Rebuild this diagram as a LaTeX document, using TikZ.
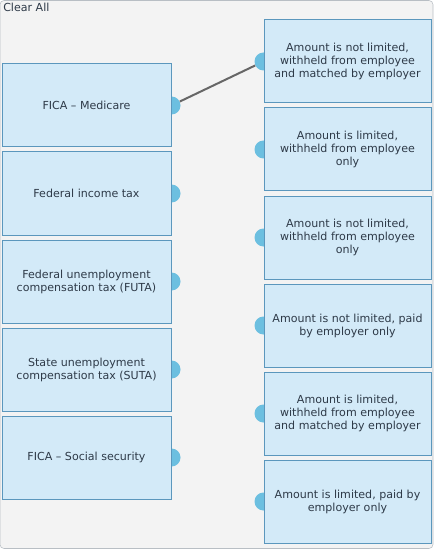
\documentclass[tikz,border=0pt]{standalone}
\usepackage{fontspec}
\setmainfont{DejaVu Sans}
\usetikzlibrary{backgrounds}
\definecolor{panelgray}{HTML}{F3F3F3}
\definecolor{panelline}{HTML}{B8BEC4}
\definecolor{boxfill}{HTML}{D3EAF8}
\definecolor{boxline}{HTML}{5B97BD}
\definecolor{dotblue}{HTML}{6CBFE0}
\definecolor{textgray}{HTML}{2E3A48}
\tikzset{
  taxbox/.style={draw=boxline,fill=boxfill,line width=0.75pt,minimum width=126.75pt,minimum height=62.25pt,inner sep=0pt,align=center,text=textgray,font=\fontsize{8.3}{9.75}\selectfont},
  rulebox/.style={taxbox,minimum width=125.25pt},
  handle/.style={circle,fill=dotblue,minimum size=13.5pt,inner sep=0pt},
  link/.style={draw=black!60,line width=1.5pt}
}
\begin{document}
\begin{tikzpicture}[x=0.75pt,y=-0.75pt]
\useasboundingbox (0,0) rectangle (437,552);
\node[taxbox] (medicare) at (86.5,105.5) {FICA -- Medicare};
\node[taxbox] (income) at (86.5,193.5) {Federal income tax};
\node[taxbox] (futa) at (86.5,281.5) {Federal unemployment\\compensation tax (FUTA)};
\node[taxbox] (suta) at (86.5,369.5) {State unemployment\\compensation tax (SUTA)};
\node[taxbox] (social) at (86.5,457.5) {FICA -- Social security};
\node[rulebox] (ruleA) at (347.5,61.5) {Amount is not limited,\\withheld from employee\\and matched by employer};
\node[rulebox] (ruleB) at (347.5,149.5) {Amount is limited,\\withheld from employee\\only};
\node[rulebox] (ruleC) at (347.5,237.5) {Amount is not limited,\\withheld from employee\\only};
\node[rulebox] (ruleD) at (347.5,325.5) {Amount is not limited, paid\\by employer only};
\node[rulebox] (ruleE) at (347.5,413.5) {Amount is limited,\\withheld from employee\\and matched by employer};
\node[rulebox] (ruleF) at (347.5,501.5) {Amount is limited, paid by\\employer only};
\node[anchor=north west,inner sep=0pt,text=textgray,font=\fontsize{8.3}{9.75}\selectfont] (clear) at (3,3) {Clear All};
\begin{scope}[on background layer]
\draw[panelline,fill=panelgray,rounded corners=3pt] (0,0.5) rectangle (433,548.5);
\node[handle] (hmedicare) at (medicare.east) {};
\node[handle] (hincome) at (income.east) {};
\node[handle] (hfuta) at (futa.east) {};
\node[handle] (hsuta) at (suta.east) {};
\node[handle] (hsocial) at (social.east) {};
\node[handle] (hruleA) at (ruleA.west) {};
\node[handle] (hruleB) at (ruleB.west) {};
\node[handle] (hruleC) at (ruleC.west) {};
\node[handle] (hruleD) at (ruleD.west) {};
\node[handle] (hruleE) at (ruleE.west) {};
\node[handle] (hruleF) at (ruleF.west) {};
\end{scope}
\draw[link] (hmedicare) -- (hruleA);
\end{tikzpicture}
\end{document}
